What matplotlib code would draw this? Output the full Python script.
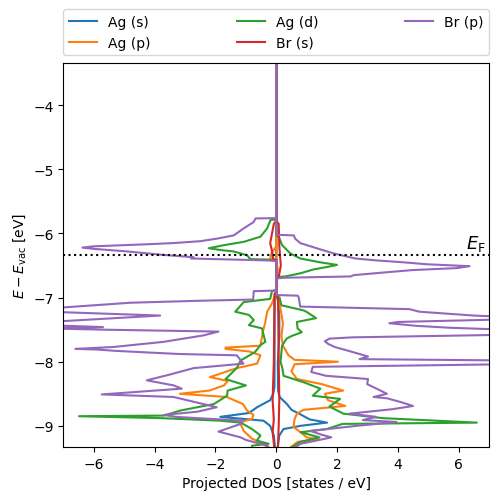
import numpy as np
import matplotlib.pyplot as plt

# Fermi level (relative to vacuum)
e_fermi = -6.33
e_top, e_bot = -3.0, -9.4

# projected DOS: (energy, dos) pairs
# spin up -> positive, spin down -> negative
ag_s_up = [(e_top, 0), (-6.98, 0), (-7.05, 0.06), (-7.3, 0.1), (-7.6, 0.1), (-8.0, 0.05),
           (-8.45, 0.06), (-8.55, 0.11), (-8.66, 0.35), (-8.75, 0.5), (-8.82, 0.79),
           (-8.9, 1.1), (-8.95, 1.67), (-9.0, 0.8), (-9.05, 0.24), (-9.15, 0.1), (e_bot, 0.03)]
ag_s_dn = [(e_top, 0), (-6.95, 0), (-7.0, -0.05), (-8.4, -0.06), (-8.5, -0.1), (-8.6, -0.2),
           (-8.71, -0.63), (-8.8, -0.9), (-8.86, -1.84), (-8.92, -0.42), (-9.0, -0.2),
           (-9.15, -0.08), (e_bot, -0.03)]

ag_p_up = [(e_top, 0), (-6.45, 0), (-6.55, 0.05), (-6.68, 0.03), (-6.98, 0), (-7.05, 0.08),
           (-7.2, 0.15), (-7.4, 0.22), (-7.6, 0.17), (-7.75, 0.22), (-7.9, 0.4), (-7.97, 0.6),
           (-8.0, 2.03), (-8.04, 0.6), (-8.15, 0.5), (-8.27, 0.68), (-8.35, 1.5), (-8.45, 2.2),
           (-8.5, 1.6), (-8.6, 1.7), (-8.69, 2.27), (-8.75, 0.9), (-8.81, 0.68), (-8.9, 0.6),
           (-9.02, 0.57), (-9.1, 0.8), (-9.18, 1.0), (-9.21, 1.4), (-9.25, 0.7), (e_bot, 0.3)]
ag_p_dn = [(e_top, 0), (-6.2, 0), (-6.3, -0.15), (-6.4, -0.2), (-6.42, 0), (-6.9, 0),
           (-7.09, -0.14), (-7.22, -0.3), (-7.38, -0.36), (-7.55, -0.45), (-7.75, -0.52),
           (-7.78, -1.67), (-7.80, -1.67), (-7.84, -0.9), (-7.9, -0.52), (-8.03, -0.63),
           (-8.1, -1.3), (-8.24, -2.18), (-8.3, -1.6), (-8.37, -1.72), (-8.45, -2.2),
           (-8.5, -3.17), (-8.55, -1.63), (-8.66, -1.1), (-8.76, -0.96), (-8.83, -0.75),
           (-8.89, -0.8), (-8.95, -1.2), (-9.08, -1.07), (-9.2, -0.8), (-9.28, -0.42), (e_bot, -0.15)]

ag_d_up = [(e_top, 0), (-6.03, 0), (-6.05, 0.08), (-6.18, 0.19), (-6.31, 0.46), (-6.39, 0.79),
           (-6.45, 1.45), (-6.49, 2.0), (-6.52, 1.7), (-6.56, 1.23), (-6.62, 0.8), (-6.67, 0.3),
           (-6.68, 0), (-6.98, 0), (-7.0, 0.11), (-7.12, 0.17), (-7.2, 0.9), (-7.22, 0.99),
           (-7.32, 1.31), (-7.38, 0.68), (-7.48, 0.7), (-7.54, 0.84), (-7.60, 0.5), (-7.64, 0.34),
           (-7.75, 0.19), (-8.0, 0.14), (-8.1, 0.2), (-8.22, 0.24), (-8.32, 0.9), (-8.42, 1.45),
           (-8.53, 1.2), (-8.58, 2.1), (-8.70, 1.75), (-8.81, 2.21), (-8.88, 3.5), (-8.95, 6.6),
           (-8.97, 2.18), (-9.05, 1.66), (-9.10, 0.8), (-9.18, 1.42), (-9.25, 0.8), (e_bot, 0.3)]
ag_d_dn = [(e_top, 0), (-5.78, 0), (-5.79, -0.19), (-5.92, -0.3), (-6.05, -0.52), (-6.13, -1.07),
           (-6.18, -1.7), (-6.23, -2.22), (-6.26, -1.8), (-6.28, -1.4), (-6.34, -0.96),
           (-6.40, -0.85), (-6.41, 0), (-6.88, 0), (-6.9, -0.14), (-7.02, -0.2), (-7.07, -1.07),
           (-7.22, -1.35), (-7.27, -0.9), (-7.35, -0.74), (-7.43, -0.9), (-7.48, -0.47),
           (-7.69, -0.36), (-7.74, -0.52), (-7.85, -0.7), (-7.98, -1.17), (-8.1, -1.3),
           (-8.27, -1.67), (-8.37, -1.0), (-8.45, -1.6), (-8.53, -1.62), (-8.66, -2.05),
           (-8.76, -3.14), (-8.84, -3.70), (-8.85, -6.49), (-8.88, -3.79), (-8.92, -1.84),
           (-8.95, -1.17), (-9.05, -0.8), (-9.15, -0.52), (-9.23, -0.64), (-9.28, -0.25),
           (-9.31, -0.8), (e_bot, -0.8)]

br_s_up = [(e_top, 0), (-5.8, 0), (-5.85, 0.08), (-6.2, 0.1), (-6.5, 0.15), (-6.68, 0.08),
           (-6.7, 0), (-6.96, 0), (-7.0, 0.06), (-8.0, 0.08), (-8.6, 0.1), (-9.0, 0.08), (e_bot, 0.05)]
br_s_dn = [(e_top, 0), (-5.8, 0), (-5.85, -0.08), (-6.15, -0.2), (-6.25, -0.15), (-6.4, -0.1),
           (-6.42, 0), (-6.9, 0), (-6.95, -0.06), (-8.0, -0.08), (-8.6, -0.12), (-8.9, -0.08),
           (-9.1, -0.12), (e_bot, -0.05)]

br_p_up = [(e_top, 0), (-6.02, 0), (-6.03, 0.58), (-6.08, 0.62), (-6.15, 0.79), (-6.23, 1.33),
           (-6.31, 1.88), (-6.39, 2.6), (-6.42, 3.3), (-6.45, 4.2), (-6.48, 4.95), (-6.51, 6.36),
           (-6.54, 5.93), (-6.57, 4.5), (-6.61, 3.5), (-6.65, 2.54), (-6.67, 2.45), (-6.69, 0.3),
           (-6.70, 0), (-6.96, 0), (-6.97, 0.71), (-7.0, 0.74), (-7.14, 0.79), (-7.18, 4.38),
           (-7.22, 4.71), (-7.28, 6.5), (-7.30, 7.5), (-7.34, 7.5), (-7.38, 4.0), (-7.40, 3.72),
           (-7.44, 4.6), (-7.47, 5.7), (-7.5, 7.5), (-7.58, 7.5), (-7.62, 2.5), (-7.64, 1.75),
           (-7.68, 1.6), (-7.72, 1.7), (-7.77, 1.92), (-7.82, 2.3), (-7.88, 2.74), (-7.92, 3.02),
           (-7.96, 2.74), (-7.98, 7.5), (-8.04, 7.5), (-8.08, 1.2), (-8.16, 1.15), (-8.22, 1.64),
           (-8.27, 3.02), (-8.35, 2.99), (-8.42, 3.3), (-8.50, 3.64), (-8.55, 3.2), (-8.57, 3.64),
           (-8.63, 4.1), (-8.69, 4.5), (-8.74, 3.83), (-8.81, 2.41), (-8.86, 3.28), (-8.91, 2.85),
           (-8.94, 3.96), (-9.0, 2.65), (-9.08, 1.12), (-9.14, 1.5), (-9.18, 1.81), (-9.22, 1.42),
           (-9.28, 0.8), (e_bot, 0.44)]
br_p_dn = [(e_top, 0), (-5.76, 0), (-5.765, -0.68), (-5.80, -0.72), (-5.82, -0.74),
           (-5.92, -1.07), (-6.03, -1.4), (-6.08, -1.95), (-6.12, -2.5), (-6.15, -3.4),
           (-6.17, -4.36), (-6.20, -6.0), (-6.22, -6.38), (-6.24, -6.0), (-6.28, -4.9),
           (-6.33, -3.81), (-6.37, -2.72), (-6.39, -2.8), (-6.42, -0.3), (-6.43, 0), (-6.89, 0),
           (-6.90, -0.74), (-7.03, -0.76), (-7.05, -2.6), (-7.08, -4.8), (-7.17, -7.5),
           (-7.22, -7.5), (-7.28, -3.82), (-7.38, -7.5), (-7.43, -7.5), (-7.46, -5.7),
           (-7.48, -7.5), (-7.50, -5.7), (-7.53, -1.9), (-7.59, -2.4), (-7.69, -3.71),
           (-7.77, -5.35), (-7.80, -6.61), (-7.81, -5.9), (-7.83, -5.3), (-7.85, -4.48),
           (-7.88, -3.17), (-7.90, -1.30), (-8.03, -1.08), (-8.10, -2.72), (-8.20, -3.5),
           (-8.29, -4.26), (-8.37, -3.37), (-8.42, -3.11), (-8.51, -5.74), (-8.55, -3.38),
           (-8.71, -1.96), (-8.78, -2.6), (-8.83, -3.7), (-8.86, -3.3), (-8.88, -2.6),
           (-8.92, -1.1), (-8.97, -1.17), (-9.09, -1.9), (-9.18, -1.17), (-9.22, -1.0),
           (-9.31, -0.3), (e_bot, -0.1)]

labels = ['Ag (s)', 'Ag (p)', 'Ag (d)', 'Br (s)', 'Br (p)']
series = [(ag_s_up, ag_s_dn), (ag_p_up, ag_p_dn), (ag_d_up, ag_d_dn),
          (br_s_up, br_s_dn), (br_p_up, br_p_dn)]
colors = ['tab:blue', 'tab:orange', 'tab:green', 'tab:red', 'tab:purple']

fig = plt.figure(figsize=(4.98, 5.02), dpi=100)
ax = fig.add_axes([0.1275, 0.1076, 0.8545, 0.765])

for lab, (up, dn), c in zip(labels, series, colors):
    up = np.array(up)
    dn = np.array(dn)
    ax.plot(up[:, 1], up[:, 0], color=c, label=lab)
    ax.plot(dn[:, 1], dn[:, 0], color=c)

ax.axhline(e_fermi, color='k', ls=':', lw=1.5)
ax.text(6.9, e_fermi + 0.02, r'$E_\mathrm{F}$', ha='right', va='bottom', fontsize=13)

ax.set_xlim(-7, 7)
ax.set_ylim(-9.33, -3.34)
ax.set_xlabel('Projected DOS [states / eV]')
ax.set_ylabel(r'$E - E_\mathrm{vac}$ [eV]')
ax.legend(bbox_to_anchor=(0, 1.02, 1, 0.2), loc='lower left', mode='expand',
          ncol=3, borderaxespad=0)

fig.savefig('out.png', dpi=100)
